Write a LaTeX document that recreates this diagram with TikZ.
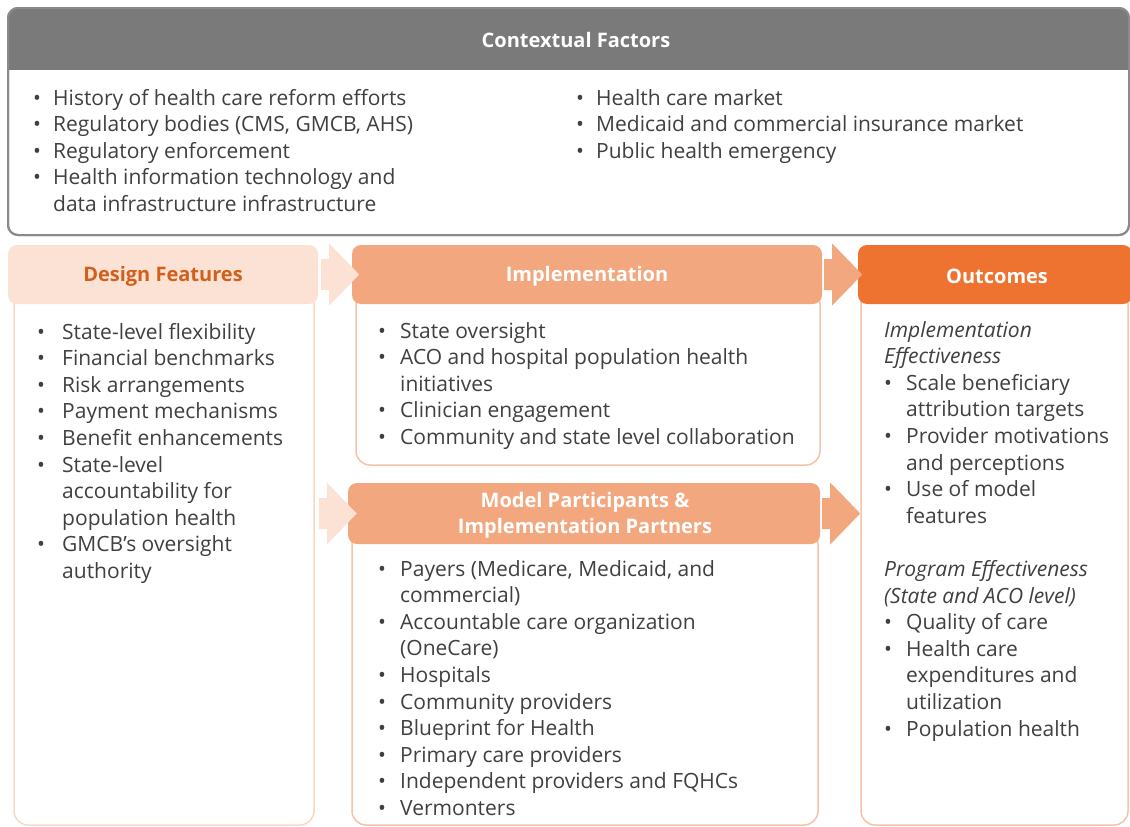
\documentclass[tikz,border=0pt]{standalone}
\usepackage{fontspec}
\setmainfont{Open Sans}
\usetikzlibrary{calc}
\definecolor{ctxgray}{HTML}{7A7A7A}
\definecolor{ctxline}{HTML}{8A8A8A}
\definecolor{peach}{HTML}{FCE2D4}
\definecolor{salmon}{HTML}{F3A77F}
\definecolor{orng}{HTML}{EE7330}
\definecolor{dforange}{HTML}{D2601C}
\definecolor{txt}{HTML}{404040}
\definecolor{bodyline}{HTML}{F6C3A6}
\definecolor{bodylight}{HTML}{FAD8C6}
\newlength\bw
\newcommand\bu{\makebox[\bw][l]{\textbullet}}
\newcommand\ind{\hspace*{\bw}}
\newcommand\barrow[2]{\fill[#2] #1 ++(0,-15.5) -- ++(8,0) -- ++(0,-15.5) -- ++(30,31) -- ++(-30,31) -- ++(0,-15.5) -- ++(-8,0) -- cycle;}
\begin{document}
\begin{tikzpicture}[x=1pt,y=-1pt,
 hdr/.style={rounded corners=9pt, inner sep=0},
 htxt/.style={font=\bfseries\fontsize{20}{26.4}\selectfont, text=white, align=center, inner sep=0},
 body/.style={draw, line width=1.5pt, rounded corners=14pt, fill=white, inner sep=0},
 lst/.style={anchor=base west, align=left, inner sep=0, font=\fontsize{21}{26.6}\selectfont, text=txt},
]
\useasboundingbox (0,0) rectangle (1130,827);
\fill[white] (0,0) rectangle (1130,827);

% contextual factors box
\node[draw=ctxline, line width=2pt, rounded corners=10pt, minimum width=1121pt, minimum height=227pt, inner sep=0] (ctxbox) at (568.5,121.5) {};
\begin{scope}
\clip[rounded corners=10pt] (8,8) rectangle (1129,235);
\fill[ctxgray] (8,8) rectangle (1129,70);
\end{scope}
\draw[ctxline, line width=2pt, rounded corners=10pt] (8,8) rectangle (1129,235);
\node[htxt] (ctxt) at (576,40) {Contextual Factors};

% bodies
\node[body, draw=bodylight, minimum width=300pt, minimum height=535pt] (dfb) at (164,557.5) {};
\node[body, draw=bodyline, minimum width=464pt, minimum height=175pt] (imb) at (588,377.5) {};
\node[body, draw=bodyline, minimum width=466pt, minimum height=295pt] (mpb) at (585,677.5) {};
\node[body, draw=bodyline, minimum width=267pt, minimum height=535pt] (outb) at (994.5,557.5) {};

% headers
\node[hdr, fill=peach, minimum width=310pt, minimum height=59pt] (dfh) at (163,274.5) {};
\node[hdr, fill=salmon, minimum width=470pt, minimum height=59pt] (imh) at (587,274.5) {};
\node[hdr, fill=orng, minimum width=274pt, minimum height=59pt] (outh) at (995,274.5) {};
\node[hdr, fill=salmon, minimum width=472pt, minimum height=61pt] (mph) at (584,513.5) {};

% block arrows
\barrow{($(dfh.east)+(3,0)$)}{peach}
\barrow{($(imh.east)+(2,0)$)}{salmon}
\barrow{($(dfb.east |- mph.west)+(4,0)$)}{peach}
\barrow{($(mph.east)+(2,0)$)}{salmon}

% header texts
\node[htxt, text=dforange] (dft) at (163,276.5) {Design Features};
\node[htxt] (imt) at (587,276.5) {Implementation};
\node[htxt] (outt) at (997,276.5) {Outcomes};
\node[htxt] (mpt) at (585,515) {Model Participants \&\\Implementation Partners};

% lists (anchor = baseline of last line)
\setlength\bw{20pt}
\node[lst] (ctxl) at (33,211.4) {\bu History of health care reform efforts\\
\bu Regulatory bodies (CMS, GMCB, AHS)\\
\bu Regulatory enforcement\\
\bu Health information technology and\\
\ind data infrastructure infrastructure};
\node[lst] (ctxr) at (576,158.2) {\bu Health care market\\
\bu Medicaid and commercial insurance market\\
\bu Public health emergency};

\setlength\bw{25pt}
\node[lst] (dfl) at (37,578.4) {\bu State-level flexibility\\
\bu Financial benchmarks\\
\bu Risk arrangements\\
\bu Payment mechanisms\\
\bu Benefit enhancements\\
\bu State-level\\
\ind accountability for\\
\ind population health\\
\bu GMCB’s oversight\\
\ind authority};

\setlength\bw{22pt}
\node[lst] (iml) at (378,444.4) {\bu State oversight\\
\bu ACO and hospital population health\\
\ind initiatives\\
\bu Clinician engagement\\
\bu Community and state level collaboration};

\node[lst] (mpl) at (378,815.4) {\bu Payers (Medicare, Medicaid, and\\
\ind commercial)\\
\bu Accountable care organization\\
\ind (OneCare)\\
\bu Hospitals\\
\bu Community providers\\
\bu Blueprint for Health\\
\bu Primary care providers\\
\bu Independent providers and FQHCs\\
\bu Vermonters};

\node[lst] (outl) at (884,736) {\textit{Implementation}\\
\textit{Effectiveness}\\
\bu Scale beneficiary\\
\ind attribution targets\\
\bu Provider motivations\\
\ind and perceptions\\
\bu Use of model\\
\ind features\\
~\\
\textit{Program Effectiveness}\\
\textit{(State and ACO level)}\\
\bu Quality of care\\
\bu Health care\\
\ind expenditures and\\
\ind utilization\\
\bu Population health};
\end{tikzpicture}
\end{document}
